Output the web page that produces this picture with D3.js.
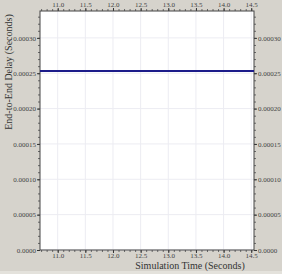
<!DOCTYPE html>
<html>
<head>
<meta charset="utf-8">
<script src="https://cdn.jsdelivr.net/npm/d3@7"></script>
<style>
  body { margin: 0; background: #d6d3cc; }
  svg { display: block; font-family: "Liberation Serif", "DejaVu Serif", serif; }
</style>
</head>
<body>
<div id="chart"></div>
<script>
// series: end-to-end delay over simulation time
var times = [10.68, 14.55]
var delays = [0.000253, 0.000253]
var xTicks = [11.0, 11.5, 12.0, 12.5, 13.0, 13.5, 14.0, 14.5]
var yTicks = [0, 0.00005, 0.0001, 0.00015, 0.0002, 0.00025, 0.0003]
var xDomain = [10.68, 14.55]
var yDomain = [0, 0.000338]

var W = 282, H = 274
var margin = {top: 11, right: 28, bottom: 24, left: 40}
var width = W - margin.left - margin.right
var height = H - margin.top - margin.bottom

var svg = d3.select("#chart").append("svg")
    .attr("width", W)
    .attr("height", H)

// lighter strip at the very bottom
svg.append("rect")
    .attr("x", 0).attr("y", 271).attr("width", W).attr("height", 3)
    .attr("fill", "#e4e2dc")

var g = svg.append("g")
    .attr("transform", "translate(" + margin.left + "," + margin.top + ")")

var x = d3.scaleLinear().domain(xDomain).range([0, width])
var y = d3.scaleLinear().domain(yDomain).range([height, 0])

g.append("rect")
    .attr("width", width).attr("height", height)
    .attr("fill", "white")

// faint grid
g.selectAll(".vgrid").data(xTicks).enter().append("line")
    .attr("x1", function(d) { return x(d) }).attr("x2", function(d) { return x(d) })
    .attr("y1", 0).attr("y2", height)
    .attr("stroke", "#ececf2").attr("stroke-width", 1)
g.selectAll(".hgrid").data(yTicks).enter().append("line")
    .attr("y1", function(d) { return y(d) }).attr("y2", function(d) { return y(d) })
    .attr("x1", 0).attr("x2", width)
    .attr("stroke", "#ececf2").attr("stroke-width", 1)

var fmtY = function(d) { return d == 0 ? "0.0000" : d3.format(".5f")(d) }

var xMinor = d3.range(10.7, 14.55, 0.1)
var yMinor = d3.range(0, 0.000338, 0.00001)

var axes = [
  {ax: d3.axisBottom(x).tickValues(xTicks).tickFormat(d3.format(".1f")), minor: d3.axisBottom(x).tickValues(xMinor), t: "translate(0," + height + ")", pad: 0},
  {ax: d3.axisTop(x).tickValues(xTicks).tickFormat(d3.format(".1f")), minor: d3.axisTop(x).tickValues(xMinor), t: "translate(0,0)", pad: 1},
  {ax: d3.axisLeft(y).tickValues(yTicks).tickFormat(fmtY), minor: d3.axisLeft(y).tickValues(yMinor), t: "translate(0,0)", pad: 1},
  {ax: d3.axisRight(y).tickValues(yTicks).tickFormat(fmtY), minor: d3.axisRight(y).tickValues(yMinor), t: "translate(" + width + ",0)", pad: 1}
]

axes.forEach(function(a) {
  g.append("g").attr("transform", a.t)
      .call(a.minor.tickSize(2).tickFormat("").tickSizeOuter(0))
      .call(function(s) { s.select(".domain").remove(); s.selectAll("line").attr("stroke", "#666") })
  var ag = g.append("g").attr("transform", a.t)
      .call(a.ax.tickSize(3).tickPadding(a.pad).tickSizeOuter(0))
  ag.select(".domain").remove()
  ag.selectAll("line").attr("stroke", "#333")
  ag.selectAll("text").attr("font-size", "7px").attr("fill", "#444")
      .style("font-family", "Liberation Serif, serif")
})

// frame
g.append("rect")
    .attr("width", width).attr("height", height)
    .attr("fill", "none").attr("stroke", "#444").attr("stroke-width", 1)

var line = d3.line()
    .x(function(d, i) { return x(times[i]) })
    .y(function(d) { return y(d) })

g.append("path")
    .datum(delays)
    .attr("d", line)
    .attr("fill", "none")
    .attr("stroke", "#1c1c8a")
    .attr("stroke-width", 2)

svg.append("text")
    .attr("transform", "translate(8,72) rotate(-90)")
    .attr("text-anchor", "middle")
    .attr("dy", "0.35em")
    .attr("font-size", "10px")
    .attr("fill", "#333")
    .text("End-to-End Delay (Seconds)")

svg.append("text")
    .attr("x", 190)
    .attr("y", 269)
    .attr("text-anchor", "middle")
    .attr("font-size", "10px")
    .attr("fill", "#333")
    .text("Simulation Time (Seconds)")
</script>
</body>
</html>
